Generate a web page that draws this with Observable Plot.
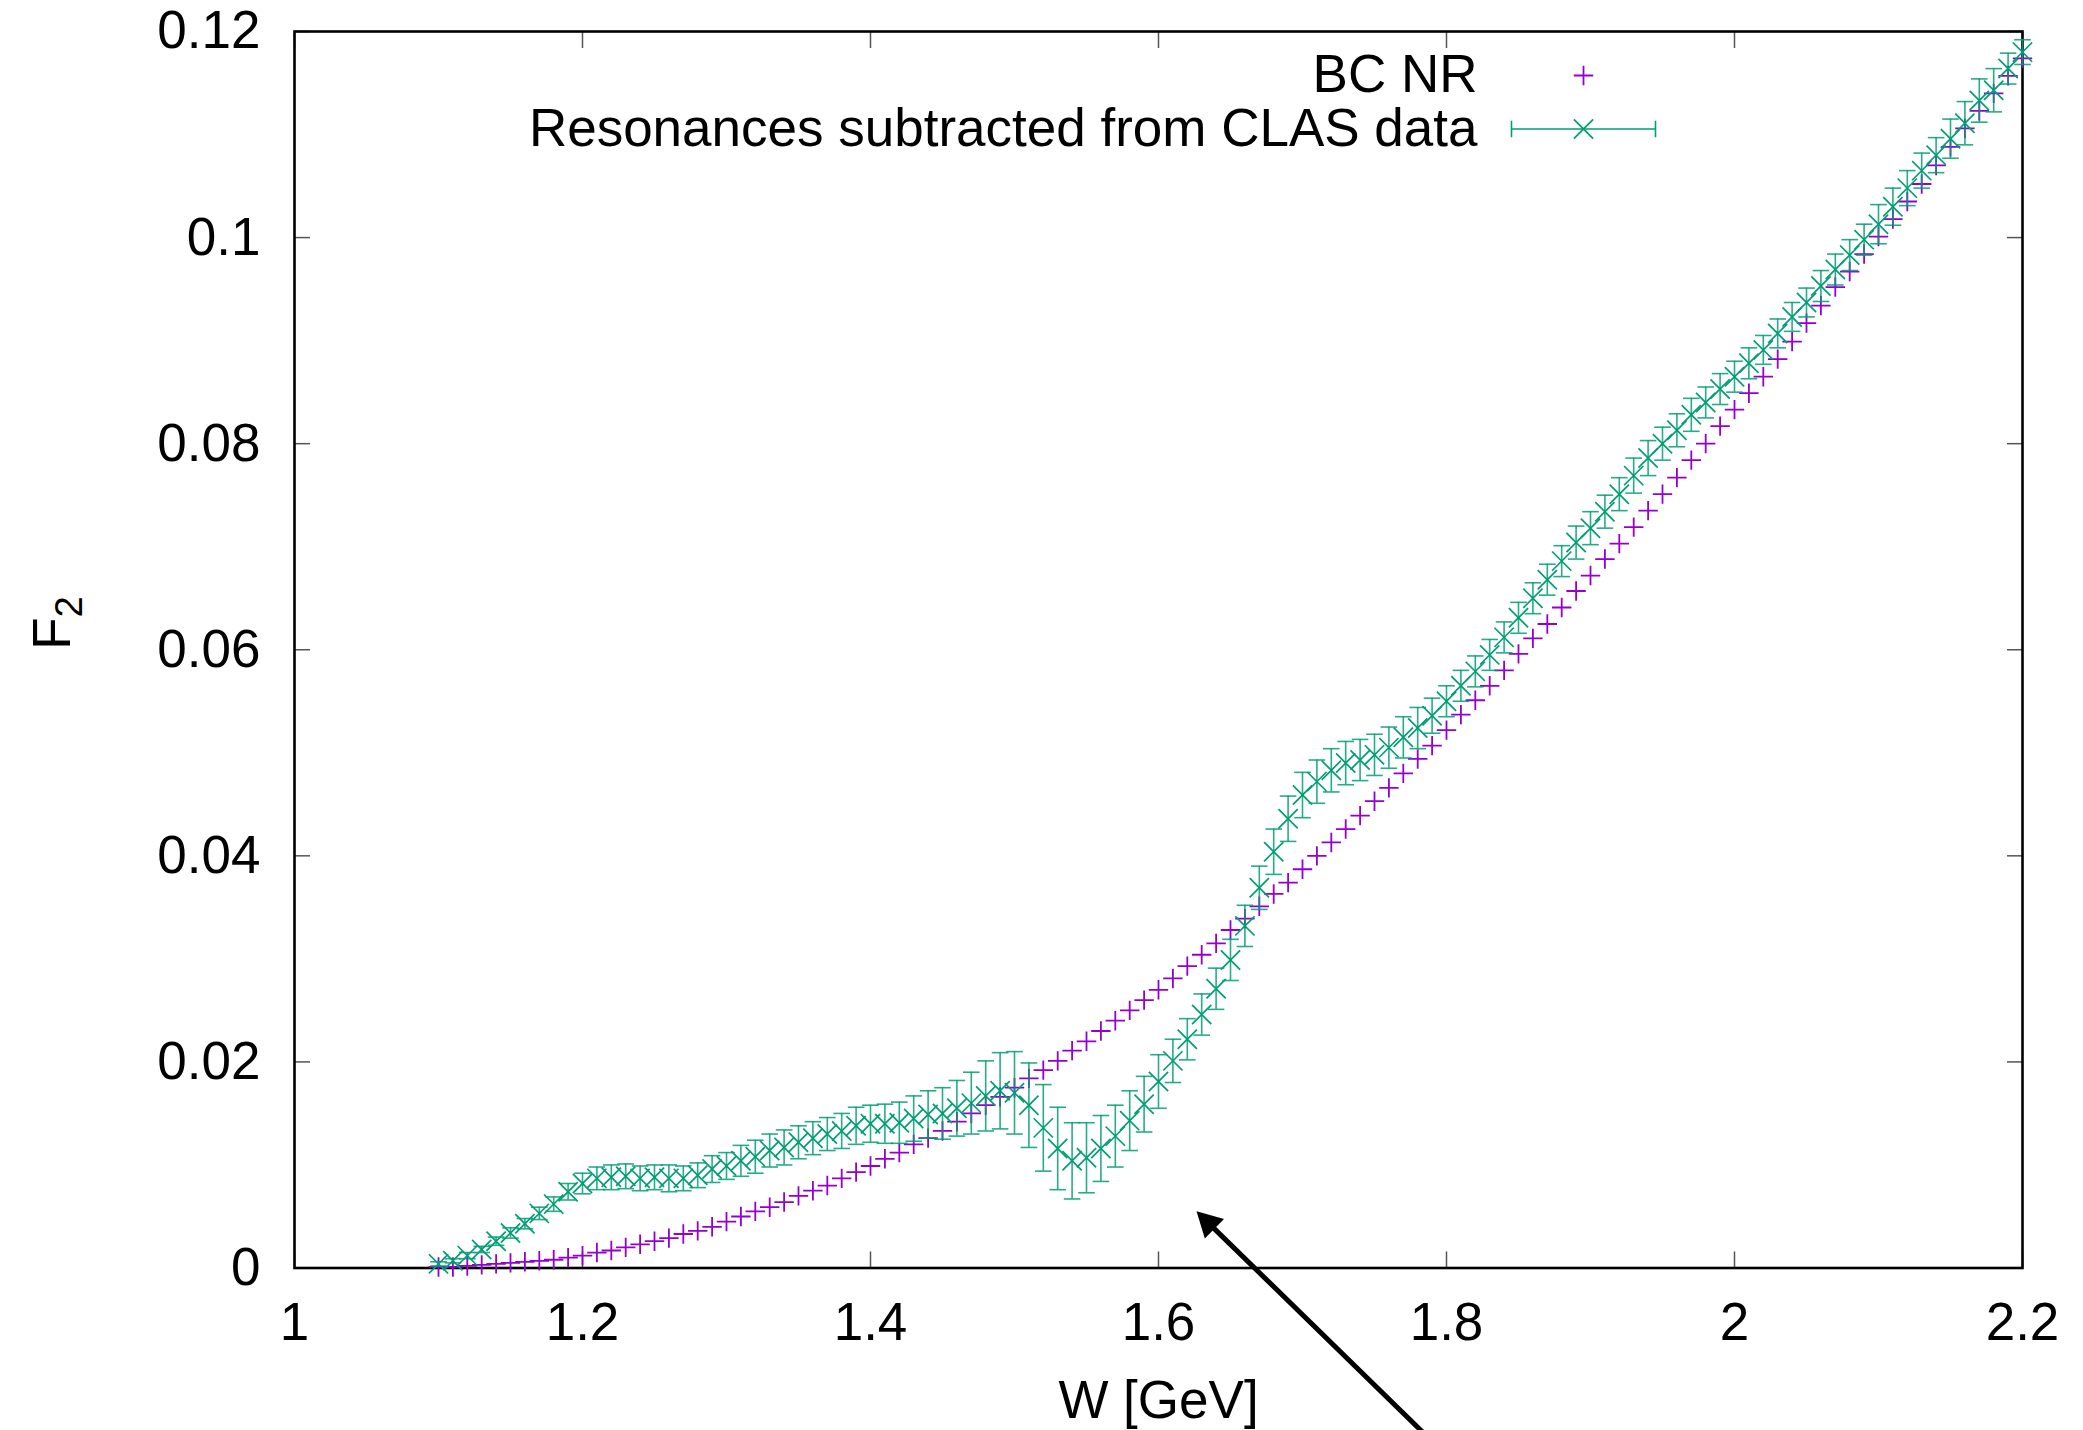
<!DOCTYPE html>
<html><head><meta charset="utf-8">
<script src="https://cdn.jsdelivr.net/npm/d3@7"></script>
<script src="https://cdn.jsdelivr.net/npm/@observablehq/plot@0.6"></script>
<style>
html,body{margin:0;padding:0;background:#fff;}
#chart{width:2083px;height:1430px;overflow:hidden;}
</style></head><body><div id="chart"></div>
<script>
// W [GeV] grid of the points
const W = [
1.10,1.11,1.12,1.13,1.14,1.15,1.16,1.17,1.18,1.19,
1.20,1.21,1.22,1.23,1.24,1.25,1.26,1.27,1.28,1.29,
1.30,1.31,1.32,1.33,1.34,1.35,1.36,1.37,1.38,1.39,
1.40,1.41,1.42,1.43,1.44,1.45,1.46,1.47,1.48,1.49,
1.50,1.51,1.52,1.53,1.54,1.55,1.56,1.57,1.58,1.59,
1.60,1.61,1.62,1.63,1.64,1.65,1.66,1.67,1.68,1.69,
1.70,1.71,1.72,1.73,1.74,1.75,1.76,1.77,1.78,1.79,
1.80,1.81,1.82,1.83,1.84,1.85,1.86,1.87,1.88,1.89,
1.90,1.91,1.92,1.93,1.94,1.95,1.96,1.97,1.98,1.99,
2.00,2.01,2.02,2.03,2.04,2.05,2.06,2.07,2.08,2.09,
2.10,2.11,2.12,2.13,2.14,2.15,2.16,2.17,2.18,2.19,
2.20];
// BC NR (purple +)
const bcNR = [
0.0001,0.0001,0.0002,0.0003,0.0004,0.0005,0.0006,0.0007,0.0008,0.0010,
0.0012,0.0015,0.0017,0.0020,0.0023,0.0026,0.0029,0.0033,0.0036,0.0040,
0.0045,0.0050,0.0055,0.0059,0.0064,0.0070,0.0075,0.0080,0.0087,0.0093,
0.0099,0.0106,0.0112,0.0120,0.0126,0.0133,0.0142,0.0150,0.0158,0.0166,
0.0175,0.0184,0.0192,0.0201,0.0211,0.0220,0.0230,0.0240,0.0250,0.0260,
0.0270,0.0281,0.0293,0.0304,0.0315,0.0328,0.0339,0.0351,0.0363,0.0374,
0.0387,0.0400,0.0413,0.0426,0.0439,0.0453,0.0466,0.0480,0.0494,0.0507,
0.0522,0.0537,0.0551,0.0565,0.0580,0.0596,0.0611,0.0625,0.0641,0.0657,
0.0672,0.0688,0.0703,0.0719,0.0735,0.0751,0.0767,0.0784,0.0800,0.0817,
0.0833,0.0849,0.0865,0.0882,0.0899,0.0917,0.0934,0.0952,0.0967,0.0984,
0.1001,0.1018,0.1035,0.1052,0.1070,0.1088,0.1106,0.1123,0.1140,0.1157,
0.1174];
// Resonances subtracted from CLAS data (green x)
const clasF2 = [
0.0004,0.0007,0.0012,0.0018,0.0026,0.0034,0.0043,0.0053,0.0062,0.0074,
0.0082,0.0087,0.0088,0.0089,0.0087,0.0088,0.0087,0.0087,0.0090,0.0096,
0.0099,0.0104,0.0108,0.0114,0.0117,0.0122,0.0126,0.0130,0.0133,0.0138,
0.0140,0.0140,0.0141,0.0145,0.0149,0.0150,0.0155,0.0160,0.0167,0.0172,
0.0170,0.0158,0.0136,0.0116,0.0104,0.0107,0.0116,0.0128,0.0143,0.0159,
0.0181,0.0201,0.0222,0.0246,0.0271,0.0299,0.0332,0.0369,0.0404,0.0436,
0.0459,0.0472,0.0483,0.0490,0.0493,0.0498,0.0505,0.0515,0.0524,0.0536,
0.0550,0.0565,0.0579,0.0595,0.0612,0.0631,0.0650,0.0668,0.0686,0.0704,
0.0718,0.0734,0.0751,0.0769,0.0786,0.0800,0.0813,0.0828,0.0840,0.0853,
0.0865,0.0878,0.0891,0.0907,0.0923,0.0937,0.0953,0.0969,0.0983,0.0998,
0.1013,0.1030,0.1048,0.1065,0.1080,0.1096,0.1111,0.1133,0.1143,0.1164,
0.1180];
// its error (half-length of the bars)
const clasErr = [
0.0002,0.0002,0.0003,0.0003,0.0004,0.0005,0.0005,0.0006,0.0007,0.0008,
0.0010,0.0011,0.0012,0.0012,0.0012,0.0012,0.0013,0.0012,0.0012,0.0013,
0.0013,0.0015,0.0016,0.0016,0.0017,0.0016,0.0016,0.0016,0.0017,0.0018,
0.0018,0.0019,0.0020,0.0022,0.0023,0.0025,0.0027,0.0030,0.0034,0.0037,
0.0040,0.0041,0.0042,0.0040,0.0037,0.0034,0.0032,0.0030,0.0029,0.0027,
0.0026,0.0021,0.0020,0.0020,0.0020,0.0020,0.0020,0.0021,0.0022,0.0022,
0.0022,0.0021,0.0021,0.0021,0.0020,0.0020,0.0020,0.0020,0.0020,0.0017,
0.0015,0.0015,0.0015,0.0015,0.0015,0.0015,0.0015,0.0015,0.0015,0.0016,
0.0016,0.0016,0.0016,0.0017,0.0017,0.0016,0.0016,0.0016,0.0015,0.0015,
0.0015,0.0015,0.0014,0.0014,0.0014,0.0014,0.0015,0.0015,0.0015,0.0015,
0.0019,0.0018,0.0017,0.0017,0.0017,0.0019,0.0021,0.0021,0.0021,0.0015,
0.0012];
const xTicks = [1, 1.2, 1.4, 1.6, 1.8, 2, 2.2];
const yTicks = [0, 0.02, 0.04, 0.06, 0.08, 0.1, 0.12];
const seriesNames = ["BC NR", "Resonances subtracted from CLAS data"];
const xLabel = "W [GeV]";
const yLabel = "F2";
// annotation arrow: tail (below the axis) -> tip
const arrowW = [1.7847, 1.6264];
const arrowF2 = [-0.0161, 0.0055];

const rows = W.map((w, i) => ({W: w, nr: bcNR[i], f2: clasF2[i], lo: clasF2[i] - clasErr[i], hi: clasF2[i] + clasErr[i]}));
const arrowRow = [{x1: arrowW[0], y1: arrowF2[0], x2: arrowW[1], y2: arrowF2[1]}];

const PURPLE = "#9400d3", GREEN = "#009e73";
const FONT = "'Liberation Sans', Arial, Helvetica, sans-serif";

const capSymbol = {draw(ctx) { ctx.moveTo(-8.3, 0); ctx.lineTo(8.3, 0); }};
const legendBar = {draw(ctx) {
  const L = 72, c = 8.3;
  ctx.moveTo(-L, 0); ctx.lineTo(L, 0);
  ctx.moveTo(-L, -c); ctx.lineTo(-L, c);
  ctx.moveTo(L, -c); ctx.lineTo(L, c);
}};
const headSymbol = {draw(ctx) {
  ctx.moveTo(0, 0); ctx.lineTo(27.5, 7.6); ctx.lineTo(8.3, 27.2); ctx.closePath();
}};
const fmt = d3.format("~g");

const chart = Plot.plot({
  width: 2083, height: 1430,
  marginLeft: 294, marginRight: 61, marginTop: 31, marginBottom: 162.5,
  style: {fontFamily: FONT, fontSize: "53px", color: "black", background: "white", overflow: "visible"},
  x: {domain: [1, 2.2]},
  y: {domain: [0, 0.12]},
  marks: [
    Plot.axisX({anchor: "bottom", ticks: xTicks, tickSize: -16, tickPadding: 50.5, tickFormat: fmt, label: null, stroke: "#555", strokeWidth: 1.5, fill: "black"}),
    Plot.axisX({anchor: "top", ticks: xTicks, tickSize: -16, tickFormat: () => "", label: null, stroke: "#555", strokeWidth: 1.5}),
    Plot.axisY({anchor: "left", ticks: yTicks, tickSize: -16, tickPadding: 50, tickFormat: fmt, label: null, stroke: "#555", strokeWidth: 1.5, fill: "black"}),
    Plot.axisY({anchor: "right", ticks: yTicks, tickSize: -16, tickFormat: () => "", label: null, stroke: "#555", strokeWidth: 1.5}),
    Plot.frame({stroke: "black", strokeWidth: 2.6}),
    Plot.dot(rows, {x: "W", y: "nr", symbol: "plus", r: 6.3, stroke: PURPLE, strokeWidth: 1.8}),
    Plot.ruleX(rows, {x: "W", y1: "lo", y2: "hi", stroke: GREEN, strokeWidth: 1.6, strokeOpacity: 0.85}),
    Plot.dot(rows, {x: "W", y: "lo", symbol: capSymbol, r: 5, fill: "none", stroke: GREEN, strokeWidth: 1.6, strokeOpacity: 0.85}),
    Plot.dot(rows, {x: "W", y: "hi", symbol: capSymbol, r: 5, fill: "none", stroke: GREEN, strokeWidth: 1.6, strokeOpacity: 0.85}),
    Plot.dot(rows, {x: "W", y: "f2", symbol: "times", r: 8.8, stroke: GREEN, strokeWidth: 1.7}),
    // legend
    Plot.text([seriesNames[0]], {text: d => d, frameAnchor: "top-right", textAnchor: "end", lineAnchor: "middle", dx: -545, dy: 43.5, fill: "black"}),
    Plot.text([seriesNames[1]], {text: d => d, frameAnchor: "top-right", textAnchor: "end", lineAnchor: "middle", dx: -545, dy: 97.5, fill: "black"}),
    Plot.dot([0], {frameAnchor: "top-right", dx: -439, dy: 44, symbol: "plus", r: 6.3, stroke: PURPLE, strokeWidth: 1.8}),
    Plot.dot([0], {frameAnchor: "top-right", dx: -439, dy: 97.5, symbol: legendBar, r: 5, fill: "none", stroke: GREEN, strokeWidth: 1.6}),
    Plot.dot([0], {frameAnchor: "top-right", dx: -439, dy: 97.5, symbol: "times", r: 8.8, stroke: GREEN, strokeWidth: 1.7}),
    // axis labels
    Plot.text([xLabel], {text: d => d, frameAnchor: "bottom", lineAnchor: "middle", dy: 133.5, fill: "black"}),
    Plot.text([yLabel], {text: d => d, frameAnchor: "left", lineAnchor: "middle", dx: -241, rotate: -90, fill: "black"}),
    // annotation arrow
    Plot.arrow(arrowRow, {x1: "x1", y1: "y1", x2: "x2", y2: "y2", stroke: "black", strokeWidth: 5, headLength: 0, insetEnd: 14}),
    Plot.dot(arrowRow, {x: "x2", y: "y2", symbol: headSymbol, r: 5, fill: "black", stroke: "none"})
  ]
});

// subscript for F2
chart.querySelectorAll("text").forEach(t => {
  if (t.textContent === "F2" && t.children.length === 0) {
    t.textContent = "F";
    const ts = document.createElementNS("http://www.w3.org/2000/svg", "tspan");
    ts.setAttribute("dy", "0.3em");
    ts.setAttribute("font-size", "0.72em");
    ts.textContent = "2";
    t.appendChild(ts);
  }
});
document.getElementById("chart").appendChild(chart);
</script></body></html>
